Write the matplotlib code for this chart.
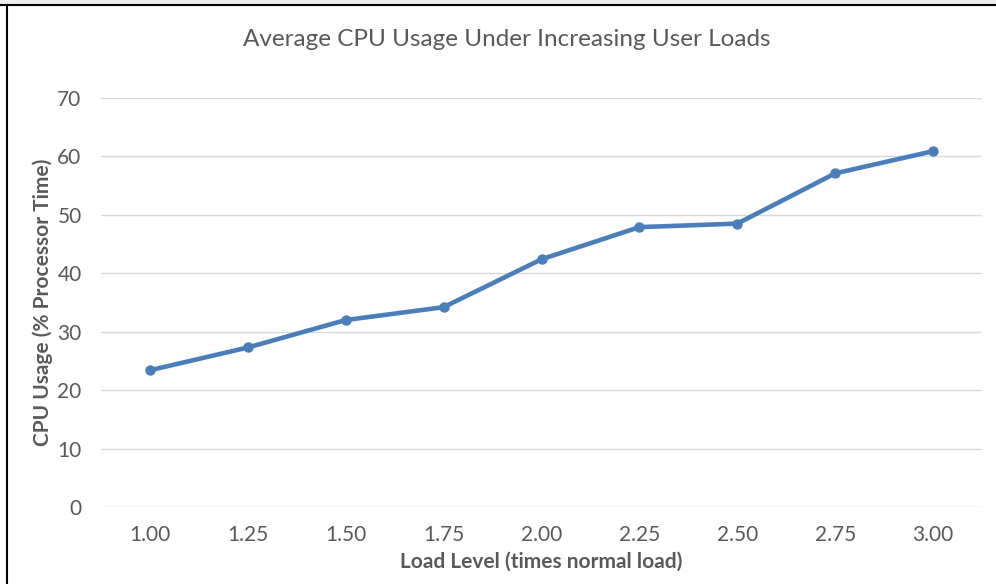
import matplotlib.pyplot as plt
from matplotlib.lines import Line2D

# data
load_levels = ["1.00", "1.25", "1.50", "1.75", "2.00", "2.25", "2.50", "2.75", "3.00"]
cpu_usage = [23.4, 27.3, 32.0, 34.2, 42.4, 47.9, 48.5, 57.1, 60.9]
y_ticks = [0, 10, 20, 30, 40, 50, 60, 70]

grey_text = "#595959"
grid_grey = "#d9d9d9"
line_blue = "#4a7ebb"

plt.rcParams["font.family"] = ["Lato", "DejaVu Sans"]

fig = plt.figure(figsize=(9.96, 5.84), dpi=100)
ax = fig.add_axes([101 / 996, 77 / 584, 881 / 996, 409 / 584])

x = list(range(len(load_levels)))
ax.plot(x, cpu_usage, color=line_blue, linewidth=3.3, marker="o",
        markersize=6.5, solid_capstyle="round", zorder=3)

ax.set_xlim(-0.5, len(load_levels) - 0.5)
ax.set_ylim(0, 70)
ax.set_xticks(x)
ax.set_xticklabels(load_levels)
ax.set_yticks(y_ticks)
ax.grid(axis="y", color=grid_grey, linewidth=1)
ax.set_axisbelow(True)
for s in ax.spines.values():
    s.set_visible(False)
ax.tick_params(axis="both", length=0, labelsize=15, colors=grey_text)
ax.tick_params(axis="y", pad=14)
ax.tick_params(axis="x", pad=13)

ax.set_xlabel("Load Level (times normal load)", fontsize=15, fontweight="bold",
              color=grey_text, labelpad=5)
ax.set_ylabel("CPU Usage (% Processor Time)", fontsize=15, fontweight="bold",
              color=grey_text, labelpad=3)

fig.text(507 / 996, 1 - 40 / 584, "Average CPU Usage Under Increasing User Loads",
         ha="center", va="center", fontsize=17.5, color=grey_text)

# worksheet border around the chart (top and left edges)
fig.patches.append(plt.Rectangle((0, 1 - 5 / 584), 1, 5 / 584, transform=fig.transFigure,
                                 color="#eeeeee", zorder=0))
fig.lines.append(Line2D([0, 1], [1 - 5 / 584] * 2, transform=fig.transFigure,
                        color="black", linewidth=1.5))
fig.lines.append(Line2D([6.5 / 996] * 2, [0, 1 - 5 / 584], transform=fig.transFigure,
                        color="black", linewidth=1.5))

fig.savefig("out.png", dpi=100)
